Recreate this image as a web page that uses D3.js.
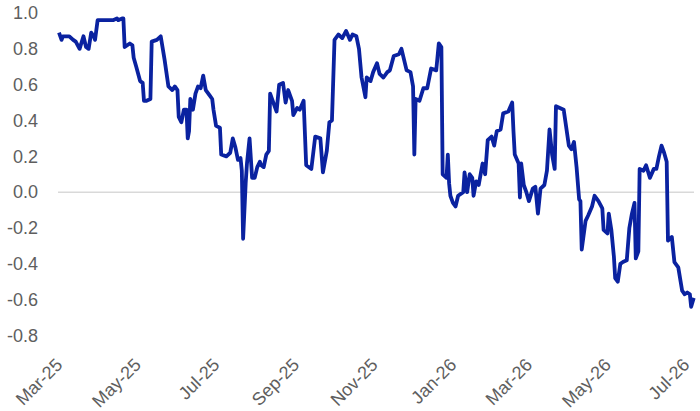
<!DOCTYPE html>
<html>
<head>
<meta charset="utf-8">
<script src="https://cdn.jsdelivr.net/npm/d3@7"></script>
<style>
body { margin: 0; background: #fff; }
svg text { font-family: "Liberation Sans", Arial, sans-serif; fill: #5e5e5e; }
</style>
</head>
<body>
<svg id="chart" width="700" height="411"></svg>
<script>
var dates = [
	"2025-03-01","2025-03-03","2025-03-04","2025-03-09","2025-03-12","2025-03-14","2025-03-17","2025-03-20","2025-03-22","2025-03-24","2025-03-26","2025-03-28","2025-03-29","2025-03-31",
	"2025-04-03","2025-04-08","2025-04-12","2025-04-15","2025-04-16","2025-04-19","2025-04-20","2025-04-21","2025-04-23","2025-04-25","2025-04-27","2025-04-28","2025-04-30",
	"2025-05-03","2025-05-05","2025-05-06","2025-05-08","2025-05-11","2025-05-12","2025-05-16","2025-05-19","2025-05-22","2025-05-25","2025-05-28","2025-05-30",
	"2025-06-01","2025-06-02","2025-06-04","2025-06-06","2025-06-08","2025-06-09","2025-06-10","2025-06-11","2025-06-13","2025-06-15","2025-06-17","2025-06-19","2025-06-21","2025-06-23","2025-06-26","2025-06-28","2025-06-29",
	"2025-07-01","2025-07-04","2025-07-05","2025-07-09","2025-07-12","2025-07-14","2025-07-16","2025-07-18","2025-07-20","2025-07-21","2025-07-22","2025-07-24","2025-07-25","2025-07-27","2025-07-29","2025-07-31",
	"2025-08-02","2025-08-04","2025-08-05","2025-08-07","2025-08-09","2025-08-11","2025-08-12","2025-08-14","2025-08-17","2025-08-19","2025-08-22","2025-08-24","2025-08-26","2025-08-29","2025-08-30",
	"2025-09-02","2025-09-04","2025-09-07","2025-09-09","2025-09-13","2025-09-16","2025-09-20","2025-09-22","2025-09-25","2025-09-27","2025-09-29",
	"2025-10-01","2025-10-04","2025-10-07","2025-10-10","2025-10-13","2025-10-15","2025-10-18","2025-10-20","2025-10-22","2025-10-25","2025-10-26","2025-10-29","2025-10-31",
	"2025-11-03","2025-11-05","2025-11-08","2025-11-11","2025-11-13","2025-11-16","2025-11-20","2025-11-22","2025-11-24","2025-11-26","2025-11-29",
	"2025-12-01","2025-12-02","2025-12-03","2025-12-06","2025-12-09","2025-12-12","2025-12-15","2025-12-19","2025-12-21","2025-12-23","2025-12-24","2025-12-27","2025-12-28","2025-12-29","2025-12-30",
	"2026-01-01","2026-01-03","2026-01-05","2026-01-09","2026-01-10","2026-01-12","2026-01-14","2026-01-16","2026-01-17","2026-01-19","2026-01-21","2026-01-24","2026-01-26","2026-01-28","2026-01-31",
	"2026-02-02","2026-02-04","2026-02-07","2026-02-09","2026-02-13","2026-02-16","2026-02-17","2026-02-18","2026-02-21","2026-02-22","2026-02-23","2026-02-25","2026-02-27",
	"2026-03-01","2026-03-04","2026-03-06","2026-03-08","2026-03-10","2026-03-13","2026-03-15","2026-03-17","2026-03-19","2026-03-21","2026-03-22","2026-03-25","2026-03-28",
	"2026-04-01","2026-04-03","2026-04-05","2026-04-07","2026-04-09","2026-04-10","2026-04-11","2026-04-14","2026-04-16","2026-04-19","2026-04-21","2026-04-24","2026-04-27","2026-04-28",
	"2026-05-01","2026-05-02","2026-05-04","2026-05-06","2026-05-07","2026-05-09","2026-05-11","2026-05-13","2026-05-16","2026-05-18","2026-05-20","2026-05-22","2026-05-23","2026-05-25","2026-05-26","2026-05-29","2026-05-31",
	"2026-06-03","2026-06-06","2026-06-08","2026-06-10","2026-06-12","2026-06-14","2026-06-16","2026-06-17","2026-06-20","2026-06-22","2026-06-25","2026-06-28","2026-06-30",
	"2026-07-02","2026-07-04","2026-07-05","2026-07-07"
];

var values = [
	0.89,0.85,0.87,0.87,0.85,0.84,0.80,0.87,0.81,0.80,0.89,0.87,0.85,0.96,
	0.96,0.96,0.96,0.97,0.96,0.97,0.97,0.81,0.82,0.83,0.82,0.75,0.70,
	0.62,0.61,0.51,0.51,0.52,0.84,0.85,0.87,0.74,0.59,0.57,0.59,
	0.57,0.42,0.39,0.46,0.46,0.30,0.34,0.52,0.46,0.55,0.59,0.58,0.65,0.57,0.54,0.52,0.46,
	0.37,0.36,0.21,0.20,0.22,0.30,0.25,0.18,0.19,0.12,-0.26,0.05,0.16,0.30,0.08,0.08,
	0.14,0.17,0.15,0.14,0.21,0.23,0.55,0.51,0.45,0.60,0.61,0.50,0.57,0.51,0.43,
	0.47,0.46,0.51,0.15,0.13,0.31,0.30,0.11,0.23,0.39,0.40,
	0.85,0.88,0.86,0.90,0.85,0.88,0.87,0.80,0.64,0.53,0.64,0.62,0.67,
	0.72,0.66,0.64,0.67,0.68,0.76,0.77,0.80,0.74,0.68,0.67,
	0.59,0.21,0.52,0.51,0.58,0.58,0.69,0.68,0.83,0.81,0.10,0.08,0.21,0.05,-0.02,
	-0.06,-0.08,-0.02,0.00,0.11,0.00,0.10,0.08,-0.02,0.06,0.04,0.16,0.10,0.29,0.31,
	0.26,0.34,0.35,0.44,0.45,0.50,0.34,0.21,0.16,-0.03,0.16,0.04,0.00,
	-0.05,0.02,0.03,-0.12,0.02,0.04,0.12,0.35,0.21,0.13,0.48,0.47,0.46,
	0.26,0.24,0.28,0.14,-0.04,-0.05,-0.32,-0.16,-0.13,-0.08,-0.02,-0.05,-0.09,-0.21,
	-0.23,-0.12,-0.21,-0.36,-0.48,-0.50,-0.40,-0.39,-0.38,-0.20,-0.12,-0.06,-0.37,-0.33,0.13,0.12,0.15,
	0.08,0.13,0.13,0.20,0.26,0.22,0.17,-0.27,-0.25,-0.39,-0.42,-0.55,-0.57,
	-0.56,-0.57,-0.64,-0.59
];

var yTicks = [-0.8, -0.6, -0.4, -0.2, 0.0, 0.2, 0.4, 0.6, 0.8, 1.0];
var xTickDates = ["2025-03-01","2025-05-01","2025-07-01","2025-09-01","2025-11-01","2026-01-01","2026-03-01","2026-05-01","2026-07-01"];

var parse = d3.timeParse("%Y-%m-%d");
var series = dates.map(function(d, i) { return { date: parse(d), value: values[i] }; });

var svg = d3.select("#chart");

var x = d3.scaleTime()
	.domain([parse("2025-03-01"), parse("2026-07-01")])
	.range([59, 686]);

var y = d3.scaleLinear()
	.domain([-0.8, 1.0])
	.range([335.5, 13]);

// zero line
svg.append("line")
	.attr("x1", 58).attr("x2", 694)
	.attr("y1", y(0)).attr("y2", y(0))
	.attr("stroke", "#d9d9d9")
	.attr("stroke-width", 1.5);

// y axis labels
var yAxis = svg.append("g")
	.attr("transform", "translate(40,0)")
	.call(d3.axisLeft(y).tickValues(yTicks).tickSize(0).tickPadding(2)
		.tickFormat(function(d) { return d.toFixed(1); }));
yAxis.select(".domain").remove();
yAxis.selectAll("text")
	.attr("font-size", 18)
	.attr("font-family", null)
	.attr("fill", null);

// x axis labels, rotated
var xAxis = svg.append("g")
	.attr("transform", "translate(0,366)")
	.call(d3.axisBottom(x).tickValues(xTickDates.map(parse)).tickSize(0)
		.tickFormat(d3.timeFormat("%b-%y")));
xAxis.select(".domain").remove();
xAxis.selectAll("text")
	.attr("font-size", 18)
	.attr("font-family", null)
	.attr("fill", null)
	.attr("x", 0).attr("y", 0).attr("dy", 0)
	.attr("text-anchor", "end")
	.attr("transform", "translate(4,0) rotate(-45)");

var line = d3.line()
	.x(function(d) { return x(d.date); })
	.y(function(d) { return y(d.value); });

svg.append("path")
	.datum(series)
	.attr("fill", "none")
	.attr("stroke", "#0a22a0")
	.attr("stroke-width", 3.8)
	.attr("stroke-linejoin", "round")
	.attr("d", line);
</script>
</body>
</html>
